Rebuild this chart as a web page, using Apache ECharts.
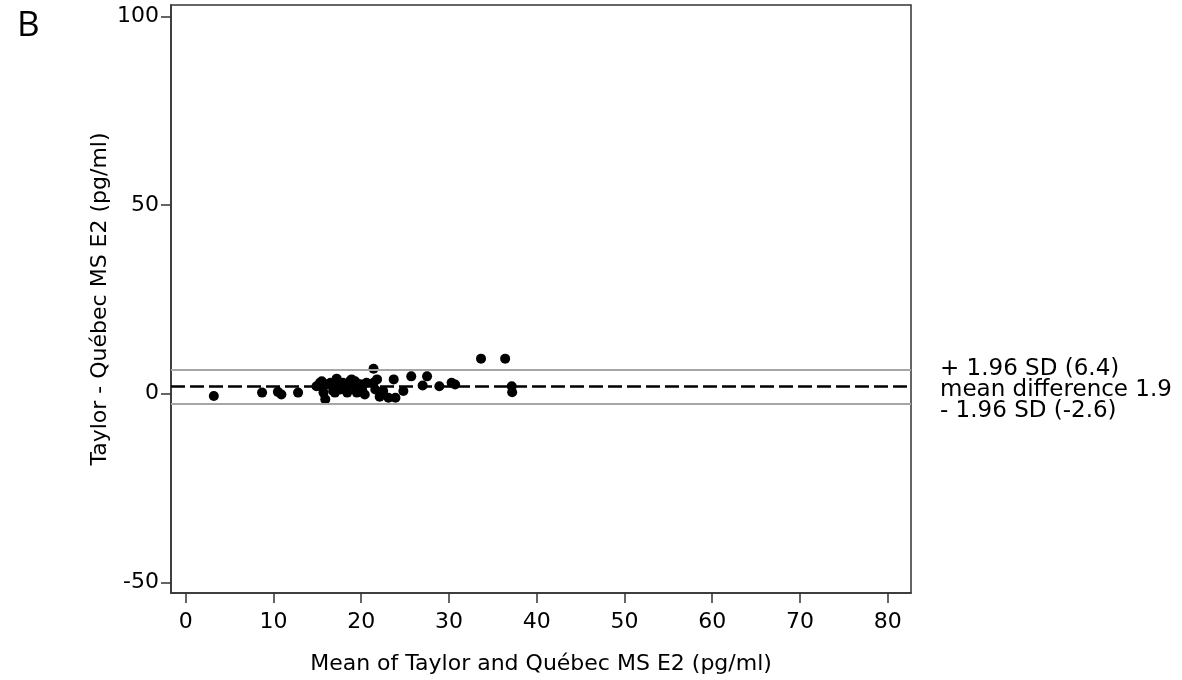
<!DOCTYPE html>
<html>
<head>
<meta charset="utf-8">
<script src="https://cdn.jsdelivr.net/npm/echarts@6/dist/echarts.min.js"></script>
<style>
  html, body { margin: 0; padding: 0; background: #fff; }
  #chart { width: 1182px; height: 680px; }
</style>
</head>
<body>
<div id="chart"></div>
<script>
  // Bland-Altman data: mean of the two methods (x) and their difference (y)
  const meanVals = [3.2, 8.7, 10.5, 10.9, 12.8, 14.9, 15.3, 15.5, 15.7, 15.9,
    15.6, 16.2, 16.5, 16.8, 17.0, 17.2, 17.4, 17.6, 17.9, 18.2,
    18.4, 18.7, 18.9, 19.1, 19.3, 19.5, 19.7, 19.9, 20.1, 20.4,
    20.6, 21.4, 21.4, 21.6, 21.8, 22.1, 22.5, 23.1, 23.7, 23.9,
    24.8, 25.7, 27.0, 27.5, 28.9, 30.3, 30.7, 33.65, 36.4, 37.15, 37.2]
  const diffVals = [-0.6, 0.3, 0.5, -0.2, 0.3, 2.0, 2.9, 3.3, 0.3, -1.5,
    1.6, 2.5, 2.9, 0.7, 0.3, 4.0, 2.0, 1.1, 2.9, 1.1,
    0.3, 3.3, 3.8, 2.0, 3.3, 0.3, 1.6, 2.5, 1.1, -0.2,
    2.9, 6.6, 2.9, 1.1, 3.8, -0.8, 0.7, -1.05, 3.8, -1.05,
    0.7, 4.6, 2.2, 4.6, 2.0, 2.9, 2.45, 9.3, 9.3, 2.0, 0.4]

  const upperLimit = 6.4
  const meanDiff = 1.9
  const lowerLimit = -2.6

  const xTicks = [0, 10, 20, 30, 40, 50, 60, 70, 80]
  const yTicks = [-50, 0, 50, 100]

  const font = "'DejaVu Sans', sans-serif"

  let myChart = echarts.init(document.getElementById("chart"))
  myChart.setOption({
    animation: false,
    grid: {
      left: 171,
      right: 271,
      top: 5,
      bottom: 86,
      show: true,
      borderColor: "#333",
      borderWidth: 1.5
    },
    xAxis: {
      type: "value",
      min: -1.68,
      max: 82.65,
      name: "Mean of Taylor and Québec MS E2 (pg/ml)",
      nameLocation: "middle",
      nameGap: 60,
      nameTextStyle: { fontFamily: font, fontSize: 22, color: "#000" },
      splitLine: { show: false },
      axisLine: { onZero: false, lineStyle: { color: "#333", width: 1.5 } },
      axisTick: {
        show: true,
        inside: false,
        length: 10,
        customValues: xTicks,
        lineStyle: { color: "#333", width: 1.5 }
      },
      axisLabel: {
        customValues: xTicks,
        margin: 18,
        fontFamily: font,
        fontSize: 22,
        color: "#000"
      }
    },
    yAxis: {
      type: "value",
      min: -52.8,
      max: 103.0,
      name: "Taylor - Québec MS E2 (pg/ml)",
      nameLocation: "middle",
      nameGap: 60,
      nameMoveOverlap: false,
      nameTextStyle: { fontFamily: font, fontSize: 22, color: "#000" },
      splitLine: { show: false },
      axisLine: { show: true, onZero: false, lineStyle: { color: "#333", width: 1.5 } },
      axisTick: {
        show: true,
        inside: false,
        length: 10,
        customValues: yTicks,
        lineStyle: { color: "#333", width: 1.5 }
      },
      axisLabel: {
        customValues: yTicks,
        margin: 12,
        fontFamily: font,
        fontSize: 22,
        color: "#000"
      }
    },
    series: [
      {
        type: "scatter",
        symbol: "circle",
        symbolSize: 10,
        itemStyle: { color: "#000", opacity: 1 },
        data: meanVals.map((x, i) => [x, diffVals[i]]),
        z: 3,
        markLine: {
          silent: true,
          symbol: ["none", "none"],
          label: { show: false },
          data: [
            { yAxis: upperLimit, lineStyle: { color: "#a6a6a6", width: 2, type: "solid" } },
            { yAxis: lowerLimit, lineStyle: { color: "#a6a6a6", width: 2, type: "solid" } },
            { yAxis: meanDiff, lineStyle: { color: "#000", width: 2.5, type: [14, 5] } }
          ]
        }
      }
    ],
    graphic: [
      {
        type: "text",
        left: 17,
        top: 9,
        style: { text: "B", fontFamily: "'Open Sans', sans-serif", fontSize: 35, fill: "#000" }
      },
      {
        type: "text",
        left: 940,
        top: 358,
        style: {
          text: "+ 1.96 SD (6.4)\nmean difference 1.9\n- 1.96 SD (-2.6)",
          fontFamily: font,
          fontSize: 23,
          lineHeight: 21,
          fill: "#000"
        }
      }
    ]
  })
</script>
</body>
</html>
